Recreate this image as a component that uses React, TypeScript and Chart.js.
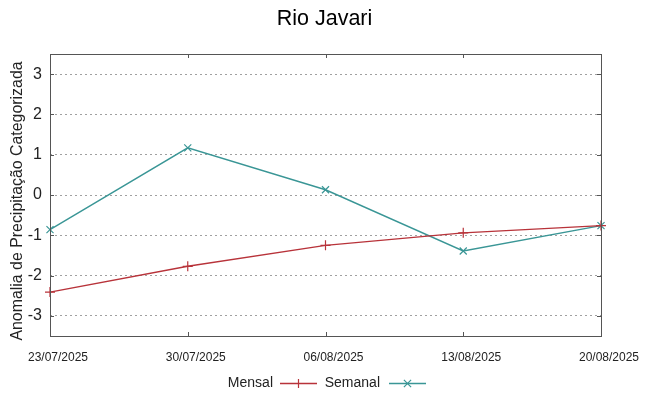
import React, { useEffect, useRef } from 'react';
import { Chart, registerables } from 'chart.js';
Chart.register(...registerables);

const chartTitle = 'Rio Javari';
const yAxisTitle = 'Anomalia de Precipitação Categorizada';
const dates = ['23/07/2025', '30/07/2025', '06/08/2025', '13/08/2025', '20/08/2025'];
const mensal = [-2.41, -1.77, -1.25, -0.94, -0.76];
const semanal = [-0.86, 1.17, 0.13, -1.39, -0.76];
const yTicks = [-3, -2, -1, 0, 1, 2, 3];
const seriesNames = ['Mensal', 'Semanal'];

const FONT = '"Liberation Sans", Arial, sans-serif';
const RED = '#b8333a';
const TEAL = '#3a9696';

function drawMarker(ctx: CanvasRenderingContext2D, x: number, y: number, style: string, color: string) {
  const r = 4.5;
  ctx.save();
  ctx.strokeStyle = color;
  ctx.lineWidth = 1.2;
  ctx.beginPath();
  if (style === 'cross') {
    ctx.moveTo(x - r, y); ctx.lineTo(x + r, y);
    ctx.moveTo(x, y - r); ctx.lineTo(x, y + r);
  } else {
    const d = r * 0.8;
    ctx.moveTo(x - d, y - d); ctx.lineTo(x + d, y + d);
    ctx.moveTo(x - d, y + d); ctx.lineTo(x + d, y - d);
  }
  ctx.stroke();
  ctx.restore();
}

const decorPlugin = {
  id: 'decor',
  afterDraw(chart: any) {
    const { ctx, chartArea: a, scales } = chart;
    ctx.save();
    // title
    ctx.fillStyle = '#000';
    ctx.font = `21.5px ${FONT}`;
    ctx.textAlign = 'center';
    ctx.textBaseline = 'middle';
    ctx.fillText(chartTitle, chart.width / 2, 19);
    // y title
    ctx.save();
    ctx.translate(18, 201);
    ctx.rotate(-Math.PI / 2);
    ctx.font = `15.9px ${FONT}`;
    ctx.fillStyle = '#222';
    ctx.fillText(yAxisTitle, 0, 0);
    ctx.restore();
    // box
    ctx.strokeStyle = '#555';
    ctx.lineWidth = 1;
    ctx.strokeRect(Math.round(a.left) + 0.5, Math.round(a.top) + 0.5, Math.round(a.right - a.left), Math.round(a.bottom - a.top));
    // inward ticks
    const tl = 4;
    ctx.beginPath();
    yTicks.forEach((v) => {
      const y = Math.round(scales.y.getPixelForValue(v)) + 0.5;
      ctx.moveTo(a.left, y); ctx.lineTo(a.left + tl, y);
      ctx.moveTo(a.right, y); ctx.lineTo(a.right - tl, y);
    });
    dates.forEach((_, i) => {
      const x = Math.round(scales.x.getPixelForValue(i)) + 0.5;
      ctx.moveTo(x, a.bottom); ctx.lineTo(x, a.bottom - tl);
      ctx.moveTo(x, a.top); ctx.lineTo(x, a.top + tl);
    });
    ctx.stroke();
    // legend
    const ly = 383;
    ctx.font = `14px ${FONT}`;
    ctx.textAlign = 'right';
    ctx.fillStyle = '#222';
    const items = [
      { name: seriesNames[0], textRight: 273, x0: 280, x1: 317, color: RED, style: 'cross' },
      { name: seriesNames[1], textRight: 380, x0: 389, x1: 426, color: TEAL, style: 'crossRot' },
    ];
    items.forEach((it) => {
      ctx.fillText(it.name, it.textRight, ly);
      ctx.strokeStyle = it.color;
      ctx.lineWidth = 1.3;
      ctx.beginPath();
      ctx.moveTo(it.x0, ly + 0.5); ctx.lineTo(it.x1, ly + 0.5);
      ctx.stroke();
      drawMarker(ctx, (it.x0 + it.x1) / 2, ly + 0.5, it.style, it.color);
    });
    ctx.restore();
  },
};

export default function App() {
  const ref = useRef<HTMLCanvasElement | null>(null);
  useEffect(() => {
    if (!ref.current) return;
    const chart = new Chart(ref.current, {
      type: 'line',
      data: {
        labels: dates,
        datasets: [
          {
            label: seriesNames[0], data: mensal, borderColor: RED, backgroundColor: RED,
            borderWidth: 1.4, pointStyle: 'cross', pointRadius: 5, pointBorderWidth: 1.2, tension: 0,
          },
          {
            label: seriesNames[1], data: semanal, borderColor: TEAL, backgroundColor: TEAL,
            borderWidth: 1.4, pointStyle: 'crossRot', pointRadius: 5, pointBorderWidth: 1.2, tension: 0,
          },
        ],
      },
      options: {
        animation: false,
        responsive: false,
        maintainAspectRatio: false,
        layout: { padding: { top: 54, right: 48, left: 0, bottom: 0 } },
        plugins: { legend: { display: false }, title: { display: false }, tooltip: { enabled: false } },
        scales: {
          x: {
            type: 'category',
            offset: false,
            grid: { display: false, drawTicks: false },
            border: { display: false },
            ticks: { font: { family: FONT, size: 12 }, color: '#222', padding: 14, labelOffset: 8, maxRotation: 0, autoSkip: false },
            afterFit: (s: any) => { s.height = 60; },
          },
          y: {
            type: 'linear',
            min: -3.5,
            max: 3.5,
            afterBuildTicks: (s: any) => { s.ticks = yTicks.map((v) => ({ value: v })); },
            grid: { color: '#a0a0a0', lineWidth: 1, drawTicks: false },
            border: { display: false, dash: [2, 3] },
            ticks: { font: { family: FONT, size: 16 }, color: '#222', padding: 8 },
            afterFit: (s: any) => { s.width = 50; },
          },
        },
      },
      plugins: [decorPlugin],
    });
    return () => chart.destroy();
  }, []);
  return (
    <div style={{ position: 'absolute', left: 0, top: 0, width: 649, height: 396, background: '#fff' }}>
      <canvas ref={ref} width={649} height={396} style={{ display: 'block' }} />
    </div>
  );
}
